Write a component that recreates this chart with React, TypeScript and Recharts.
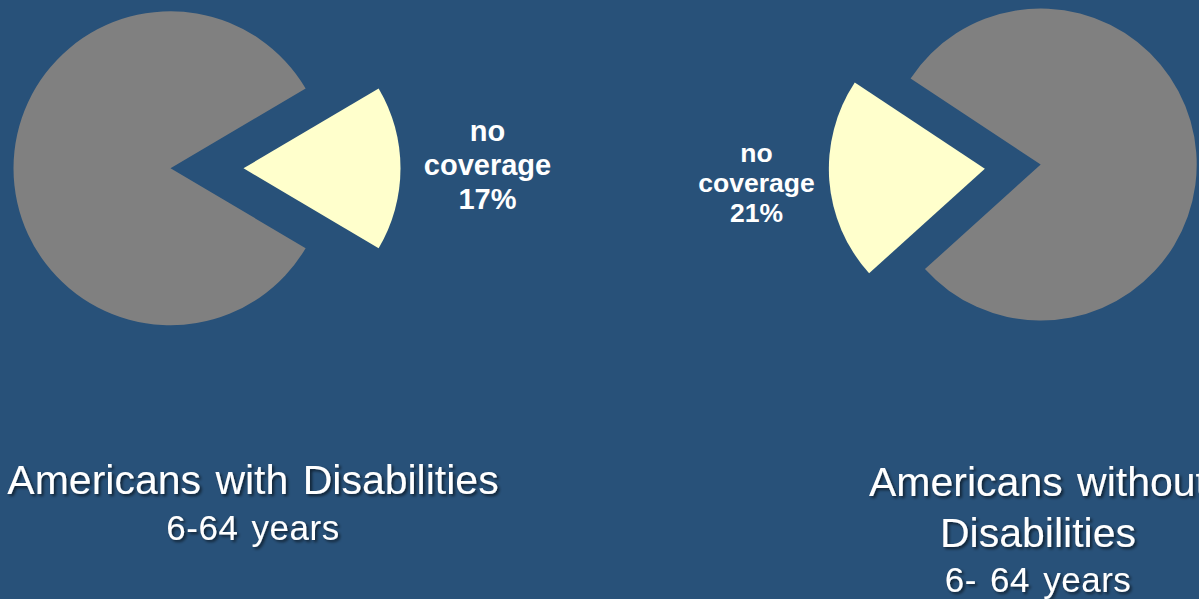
import React from 'react';
import { PieChart, Pie, Cell } from 'recharts';

// slice names and shares (%)
const coverageNames = ['no coverage', 'coverage'];
const withDisabilities = [17, 83];
const withoutDisabilities = [21, 79];

// captions under each pie
const leftTitle = ['Americans with Disabilities', '6-64 years'];
const rightTitle = ['Americans without', 'Disabilities', '6- 64 years'];

const BG = '#285179';
const GRAY = '#808080';
const YELLOW = '#FFFFCC';
const RAD = Math.PI / 180;
const FONT = '"Liberation Sans", Arial, sans-serif';

const toData = (values: number[]) =>
  coverageNames.map((name, i) => ({ name, value: values[i] }));

interface PieSpec {
  id: string;
  values: number[];
  cx: number;
  cy: number;
  r: number;
  midAngle: number; // direction of the exploded slice
  explode: number;
  labelGap: number;
  fontSize: number;
  lineHeight: number;
}

const pies: PieSpec[] = [
  { id: 'with', values: withDisabilities, cx: 170.5, cy: 168.3, r: 157, midAngle: 0, explode: 73, labelGap: 87, fontSize: 29, lineHeight: 34 },
  { id: 'without', values: withoutDisabilities, cx: 1040.7, cy: 164.5, r: 156, midAngle: 184.3, explode: 56, labelGap: 73, fontSize: 26.5, lineHeight: 30 },
];

const makeLabel = (gap: number, fs: number, lh: number) => (props: any) => {
  if (props.index !== 0) return null;
  const { cx, cy, midAngle, outerRadius } = props;
  const name: string = props.name ?? props.payload?.name;
  const value = props.value ?? props.payload?.value;
  const rr = outerRadius + gap;
  const x = cx + rr * Math.cos(-midAngle * RAD);
  const y = cy + rr * Math.sin(-midAngle * RAD) + fs * 0.23;
  const [w1, w2] = name.split(' ');
  return (
    <text x={x} y={y} textAnchor="middle" fill="#fff" fontSize={fs} fontWeight="bold" fontFamily={FONT}>
      <tspan x={x} y={y - lh}>{w1}</tspan>
      <tspan x={x} y={y}>{w2}</tspan>
      <tspan x={x} y={y + lh}>{`${value}%`}</tspan>
    </text>
  );
};

const renderPies = (p: PieSpec) => {
  const data = toData(p.values);
  const total = p.values.reduce((a, b) => a + b, 0);
  const start = p.midAngle - (p.values[0] / total) * 180;
  const dx = p.explode * Math.cos(p.midAngle * RAD);
  const dy = -p.explode * Math.sin(p.midAngle * RAD);
  return [
    <Pie
      key={`${p.id}-main`}
      data={data}
      dataKey="value"
      cx={p.cx}
      cy={p.cy}
      innerRadius={0}
      outerRadius={p.r}
      startAngle={start}
      endAngle={start + 360}
      stroke="none"
      isAnimationActive={false}
    >
      {data.map((d, i) => (
        <Cell key={i} fill={i === 0 ? 'none' : GRAY} />
      ))}
    </Pie>,
    <Pie
      key={`${p.id}-out`}
      data={data}
      dataKey="value"
      cx={p.cx + dx}
      cy={p.cy + dy}
      innerRadius={0}
      outerRadius={p.r}
      startAngle={start}
      endAngle={start + 360}
      stroke="none"
      labelLine={false}
      label={makeLabel(p.labelGap, p.fontSize, p.lineHeight)}
      isAnimationActive={false}
    >
      {data.map((d, i) => (
        <Cell key={i} fill={i === 0 ? YELLOW : 'none'} />
      ))}
    </Pie>,
  ];
};

const Caption = ({ x, lines, baselines, sizes }: { x: number; lines: string[]; baselines: number[]; sizes: number[] }) => (
  <>
    {lines.map((t, i) => (
      <text
        key={i}
        x={x}
        y={baselines[i]}
        textAnchor="middle"
        fill="#fff"
        fontSize={sizes[i]}
        fontFamily={FONT}
        letterSpacing={sizes[i] < 38 ? 0.5 : 0}
        wordSpacing={3}
        filter="url(#txtShadow)"
      >
        {t}
      </text>
    ))}
  </>
);

export default function App() {
  return (
    <div style={{ position: 'relative', width: 1199, height: 599, background: BG, overflow: 'hidden' }}>
      <style>{'body{margin:0}'}</style>
      <PieChart
        width={1199}
        height={599}
        margin={{ top: 0, right: 0, bottom: 0, left: 0 }}
        style={{ position: 'absolute', left: 0, top: 0 }}
      >
        {pies.flatMap(renderPies)}
      </PieChart>
      <svg width={1199} height={599} style={{ position: 'absolute', left: 0, top: 0, pointerEvents: 'none' }}>
        <defs>
          <filter id="txtShadow" x="-10%" y="-30%" width="120%" height="160%">
            <feDropShadow dx="2" dy="2" stdDeviation="1.5" floodColor="#000" floodOpacity="0.6" />
          </filter>
        </defs>
        <Caption x={253} lines={leftTitle} baselines={[494, 540]} sizes={[41, 35]} />
        <Caption x={1038} lines={rightTitle} baselines={[495.5, 546.5, 592]} sizes={[41, 41, 35]} />
      </svg>
    </div>
  );
}
